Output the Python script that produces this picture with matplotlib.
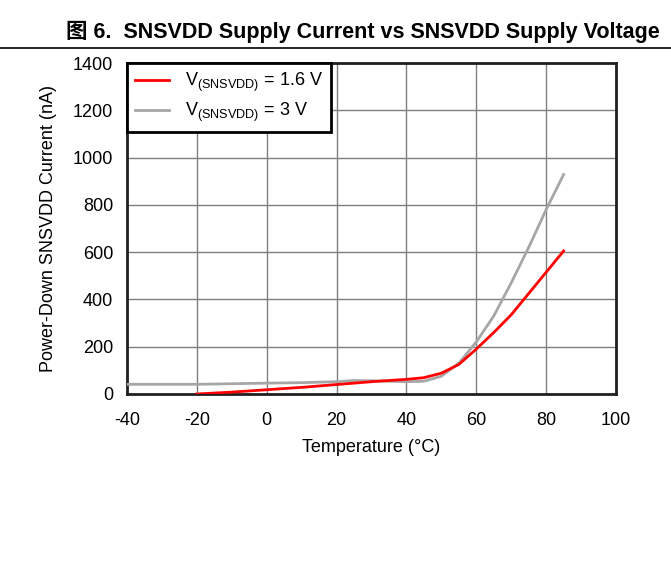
import numpy as np
import matplotlib.pyplot as plt
from matplotlib.lines import Line2D

plt.rcParams['font.family'] = ['Liberation Sans', 'Noto Sans CJK SC', 'DejaVu Sans']
plt.rcParams['axes.unicode_minus'] = False

# data
temp_16 = [-20, -10, 0, 10, 20, 30, 40, 45, 50, 55, 60, 65, 70, 75, 80, 85]
cur_16 = [0, 8, 18, 28, 40, 52, 62, 69, 88, 125, 190, 260, 335, 425, 515, 605]
temp_3 = [-40, -20, 0, 10, 20, 25, 30, 40, 45, 50, 55, 60, 65, 70, 75, 80, 85]
cur_3 = [41, 41, 46, 48, 52, 57, 56, 52, 54, 75, 130, 220, 330, 470, 620, 780, 928]

xticks = [-40, -20, 0, 20, 40, 60, 80, 100]
yticks = [0, 200, 400, 600, 800, 1000, 1200, 1400]

fig = plt.figure(figsize=(6.71, 5.77), dpi=100)
ax = fig.add_axes([127/671, 1 - 394/577, 489/671, 331/577])

ax.plot(temp_3, cur_3, color='#a6a6a6', lw=2, zorder=3)
ax.plot(temp_16, cur_16, color='#ff0000', lw=2, zorder=4)

ax.set_xlim(-40, 100)
ax.set_ylim(0, 1400)
ax.set_xticks(xticks)
ax.set_yticks(yticks)
ax.tick_params(length=0, labelsize=13, colors='black')
ax.tick_params(axis='x', pad=13)
ax.tick_params(axis='y', pad=10)
ax.grid(True, color='#7f7f7f', lw=1)
ax.set_axisbelow(True)
for sp in ax.spines.values():
    sp.set_linewidth(2)
    sp.set_color('#231f20')

ax.set_xlabel('Temperature (°C)', fontsize=13, labelpad=7)
ax.set_ylabel('Power-Down SNSVDD Current (nA)', fontsize=13, labelpad=11)

handles = [Line2D([], [], color='#ff0000', lw=2),
           Line2D([], [], color='#a6a6a6', lw=2)]
labels = [r'V$_{\mathregular{(SNSVDD)}}$ = 1.6 V', r'V$_{\mathregular{(SNSVDD)}}$ = 3 V']
leg = ax.legend(handles, labels, loc='upper left', fontsize=13, fancybox=False,
                framealpha=1, edgecolor='black', borderaxespad=0,
                handlelength=1.9, handletextpad=0.85, borderpad=0.45, labelspacing=0.35)
leg.get_frame().set_linewidth(2)

fig.text(660/671, 1 - 32/577, '图 6.  SNSVDD Supply Current vs SNSVDD Supply Voltage',
         ha='right', va='center', fontsize=15.5, fontweight='bold')
fig.add_artist(Line2D([0, 1], [1 - 48/577, 1 - 48/577], color='black', lw=1.2))

fig.savefig('out.png', dpi=100)
